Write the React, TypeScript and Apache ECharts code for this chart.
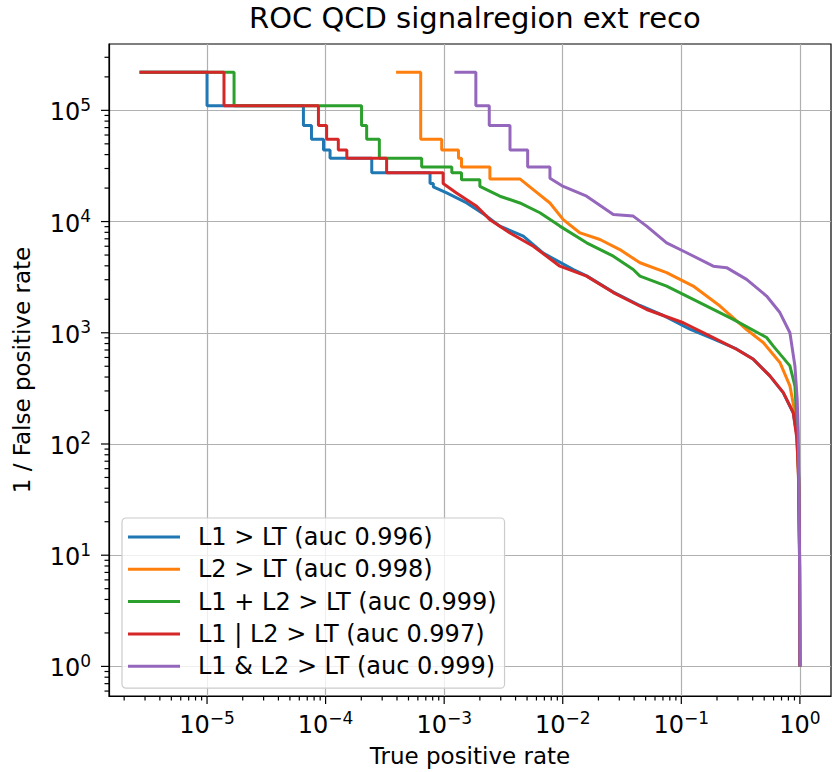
import React, { useEffect, useRef } from 'react';
import * as echarts from 'echarts';

const FONT = 'DejaVu Sans';

const titleText = 'ROC QCD signalregion ext reco';
const xAxisTitle = 'True positive rate';
const yAxisTitle = '1 / False positive rate';

const seriesNames = [
  'L1 > LT (auc 0.996)',
  'L2 > LT (auc 0.998)',
  'L1 + L2 > LT (auc 0.999)',
  'L1 | L2 > LT (auc 0.997)',
  'L1 & L2 > LT (auc 0.999)',
];
const seriesColors = ['#1f77b4', '#ff7f0e', '#2ca02c', '#d62728', '#9467bd'];

// [true positive rate, 1 / false positive rate]
const l1Points: [number, number][] = [
  [2.7e-6, 2.2e5], [1.0e-5, 2.2e5], [1.0e-5, 1.1e5],
  [6.5e-5, 1.1e5], [6.5e-5, 7.3e4], [7.6e-5, 7.3e4], [7.6e-5, 5.5e4],
  [9.6e-5, 5.5e4], [9.6e-5, 4.4e4], [1.09e-4, 4.4e4], [1.09e-4, 3.7e4],
  [2.45e-4, 3.7e4], [2.45e-4, 2.75e4], [7.6e-4, 2.75e4], [7.6e-4, 2.2e4],
  [8.1e-4, 2.2e4], [8.1e-4, 2.05e4], [1.05e-3, 1.81e4], [1.55e-3, 1.47e4],
  [2.28e-3, 1.12e4], [2.95e-3, 9.1e3], [4.65e-3, 7.4e3], [6.85e-3, 5.2e3],
  [1.23e-2, 3.7e3], [1.59e-2, 3.25e3], [2.67e-2, 2.32e3], [4.48e-2, 1.76e3],
  [7.04e-2, 1.43e3], [0.118, 1.08e3], [0.186, 880], [0.292, 715],
  [0.404, 580], [0.558, 410], [0.723, 290], [0.879, 190], [0.938, 125],
  [0.97, 60], [0.993, 12], [1, 1],
];

const l2Points: [number, number][] = [
  [3.93e-4, 2.2e5], [6.34e-4, 2.2e5], [6.34e-4, 5.5e4],
  [9.53e-4, 5.5e4], [9.53e-4, 4.4e4], [1.32e-3, 4.4e4], [1.32e-3, 3.7e4],
  [1.4e-3, 3.7e4], [1.4e-3, 3.1e4], [2.43e-3, 3.1e4], [2.43e-3, 2.42e4],
  [4.35e-3, 2.42e4], [5.64e-3, 1.94e4], [7.8e-3, 1.47e4], [1.01e-2, 1.04e4],
  [1.4e-2, 7.9e3], [2.06e-2, 6.9e3], [3.03e-2, 5.6e3], [4.48e-2, 4.26e3],
  [7.52e-2, 3.47e3], [0.126, 2.63e3], [0.212, 1.74e3], [0.355, 1.07e3],
  [0.491, 817], [0.678, 541], [0.824, 333], [0.908, 192], [0.953, 100],
  [0.98, 39], [0.995, 7.6], [1, 1],
];

const sumPoints: [number, number][] = [
  [2.7e-6, 2.2e5], [1.69e-5, 2.2e5], [1.69e-5, 1.1e5],
  [2.01e-4, 1.1e5], [2.01e-4, 7.3e4], [2.22e-4, 7.3e4], [2.22e-4, 5.5e4],
  [2.84e-4, 5.5e4], [2.84e-4, 3.7e4], [6.46e-4, 3.7e4], [6.46e-4, 3.1e4],
  [1.16e-3, 3.1e4], [1.16e-3, 2.75e4], [1.4e-3, 2.75e4], [1.4e-3, 2.38e4],
  [2.0e-3, 2.38e4], [2.0e-3, 2.07e4], [2.95e-3, 1.69e4], [4.35e-3, 1.47e4],
  [6.42e-3, 1.2e4], [9.46e-3, 9.1e3], [1.59e-2, 6.44e3], [2.67e-2, 4.88e3],
  [3.93e-2, 3.71e3], [4.48e-2, 3.23e3], [7.52e-2, 2.63e3], [0.143, 1.87e3],
  [0.274, 1.32e3], [0.524, 906], [0.595, 762], [0.824, 504], [0.908, 333],
  [0.938, 179], [0.949, 128], [0.98, 48], [0.995, 9], [1, 1],
];

const orPoints: [number, number][] = [
  [2.7e-6, 2.2e5], [1.39e-5, 2.2e5], [1.39e-5, 1.1e5],
  [8.7e-5, 1.1e5], [8.7e-5, 7.3e4], [1.02e-4, 7.3e4], [1.02e-4, 5.5e4],
  [1.28e-4, 5.5e4], [1.28e-4, 4.4e4], [1.51e-4, 4.4e4], [1.51e-4, 3.7e4],
  [3.27e-4, 3.7e4], [3.27e-4, 2.75e4], [9.8e-4, 2.75e4], [9.8e-4, 2.2e4],
  [1.27e-3, 1.81e4], [1.88e-3, 1.37e4], [2.43e-3, 1.04e4], [3.59e-3, 7.9e3],
  [5.64e-3, 6.0e3], [9.46e-3, 3.97e3], [1.59e-2, 3.23e3], [2.67e-2, 2.3e3],
  [5.1e-2, 1.62e3], [0.104, 1.23e3], [0.186, 906], [0.292, 711],
  [0.404, 578], [0.558, 410], [0.723, 291], [0.879, 192], [0.944, 111],
  [0.977, 48], [0.993, 9], [1, 1],
];

const andPoints: [number, number][] = [
  [1.22e-3, 2.2e5], [1.85e-3, 2.2e5], [1.85e-3, 1.1e5],
  [2.4e-3, 1.1e5], [2.4e-3, 7.3e4], [3.59e-3, 7.3e4], [3.59e-3, 4.4e4],
  [5.06e-3, 4.4e4], [5.06e-3, 3.1e4], [7.8e-3, 3.1e4], [7.8e-3, 2.45e4],
  [1.01e-2, 2.07e4], [1.59e-2, 1.69e4], [2.67e-2, 1.16e4], [3.93e-2, 1.12e4],
  [5.1e-2, 9.1e3], [7.52e-2, 6.44e3], [0.111, 5.24e3], [0.186, 3.97e3],
  [0.241, 3.85e3], [0.355, 3.02e3], [0.524, 2.14e3], [0.678, 1.52e3],
  [0.824, 1.0e3], [0.908, 504], [0.949, 253], [0.968, 127], [0.986, 32],
  [0.996, 6.2], [1, 1],
];

const seriesData = [l1Points, l2Points, sumPoints, orPoints, andPoints];

// axis extents
const X_MIN = 1.49e-6;
const X_MAX = 1.83;
const Y_MIN = 0.542;
const Y_MAX = 3.95e5;

// tick positions: decades and minor multipliers
const xDecades = [1e-6, 1e-5, 1e-4, 1e-3, 1e-2, 1e-1, 1];
const yDecades = [0.1, 1, 10, 100, 1e3, 1e4, 1e5];
const minorMultipliers = [1, 2, 3, 4, 5, 6, 7, 8, 9];

const inRange = (v: number, lo: number, hi: number) => v >= lo && v <= hi;
const xTicks: number[] = [];
xDecades.forEach((d) => minorMultipliers.forEach((m) => {
  const v = d * m;
  if (inRange(v, X_MIN, X_MAX)) xTicks.push(v);
}));
const yTicks: number[] = [];
yDecades.forEach((d) => minorMultipliers.forEach((m) => {
  const v = d * m;
  if (inRange(v, Y_MIN, Y_MAX)) yTicks.push(v);
}));

const isMajor = (v: number) => {
  const lg = Math.log10(v);
  return Math.abs(lg - Math.round(lg)) < 1e-6;
};

const powLabel = (v: number) => {
  const e = Math.round(Math.log10(v));
  const s = e < 0 ? '\u2212' + String(-e) : String(e);
  return '{b|10}{s|' + s + '}';
};

const labelRich = {
  b: { fontSize: 24, fontFamily: FONT, color: '#000', lineHeight: 28, verticalAlign: 'bottom' },
  s: { fontSize: 17, fontFamily: FONT, color: '#000', lineHeight: 17, verticalAlign: 'top' },
};

export default function App() {
  const ref = useRef<HTMLDivElement>(null);
  useEffect(() => {
    const chart = echarts.init(ref.current!, null, { renderer: 'svg' });
    const lineSeries = seriesNames.map((name, i) => ({
      name,
      type: 'line',
      data: seriesData[i],
      symbol: 'none',
      showSymbol: false,
      color: seriesColors[i],
      lineStyle: { width: 3, color: seriesColors[i] },
      itemStyle: { color: seriesColors[i] },
      z: 3,
    }));
    const tickSeriesX = {
      type: 'custom',
      silent: true,
      clip: false,
      z: 20,
      data: xTicks.map((v) => [v, Y_MIN]),
      renderItem: (_p: any, api: any) => {
        const v = api.value(0);
        const pt = api.coord([v, api.value(1)]);
        const len = isMajor(v) ? 8 : 4.5;
        return {
          type: 'line',
          shape: { x1: pt[0], y1: pt[1], x2: pt[0], y2: pt[1] + len },
          style: { stroke: '#000', lineWidth: 1.2 },
        };
      },
    };
    const tickSeriesY = {
      type: 'custom',
      silent: true,
      clip: false,
      z: 20,
      data: yTicks.map((v) => [X_MIN, v]),
      renderItem: (_p: any, api: any) => {
        const v = api.value(1);
        const pt = api.coord([api.value(0), v]);
        const len = isMajor(v) ? 8 : 4.5;
        return {
          type: 'line',
          shape: { x1: pt[0] - len, y1: pt[1], x2: pt[0], y2: pt[1] },
          style: { stroke: '#000', lineWidth: 1.2 },
        };
      },
    };
    chart.setOption({
      animation: false,
      backgroundColor: '#fff',
      title: {
        text: titleText,
        left: 249,
        top: 3,
        padding: 0,
        textStyle: { fontSize: 29, fontWeight: 'normal', fontFamily: FONT, color: '#000' },
      },
      legend: {
        data: seriesNames.map((name) => ({ name, icon: 'rect' })),
        orient: 'vertical',
        left: 122,
        top: 518,
        padding: [7, 8, 10, 6],
        itemWidth: 52,
        itemHeight: 3,
        itemGap: 8.3,
        backgroundColor: 'rgba(255,255,255,0.8)',
        borderColor: '#cccccc',
        borderWidth: 1.2,
        borderRadius: 4,
        selectedMode: false,
        textStyle: { fontSize: 24, fontFamily: FONT, color: '#000', lineHeight: 24, padding: [0, 0, 0, 13] },
      },
      grid: {
        left: 109,
        right: 1,
        top: 44,
        bottom: 74,
        show: true,
        borderColor: '#000',
        borderWidth: 1.2,
        backgroundColor: 'transparent',
      },
      xAxis: {
        type: 'log',
        logBase: 10,
        min: X_MIN,
        max: X_MAX,
        name: xAxisTitle,
        nameLocation: 'middle',
        nameGap: 48,
        nameTextStyle: { fontSize: 23, fontFamily: FONT, color: '#000' },
        axisLine: { show: true, lineStyle: { color: '#000', width: 1.2 } },
        axisTick: { show: false },
        minorTick: { show: false },
        splitLine: { show: true, showMinLine: false, showMaxLine: false, lineStyle: { color: '#b0b0b0', width: 1.2 } },
        axisLabel: {
          show: true,
          margin: 13,
          showMinLabel: false,
          showMaxLabel: false,
          formatter: powLabel,
          rich: labelRich,
        },
      },
      yAxis: {
        type: 'log',
        logBase: 10,
        min: Y_MIN,
        max: Y_MAX,
        name: yAxisTitle,
        nameLocation: 'middle',
        nameGap: 76,
        nameTextStyle: { fontSize: 23, fontFamily: FONT, color: '#000' },
        axisLine: { show: true, lineStyle: { color: '#000', width: 1.2 } },
        axisTick: { show: false },
        minorTick: { show: false },
        splitLine: { show: true, showMinLine: false, showMaxLine: false, lineStyle: { color: '#b0b0b0', width: 1.2 } },
        axisLabel: {
          show: true,
          margin: 18,
          showMinLabel: false,
          showMaxLabel: false,
          formatter: powLabel,
          rich: labelRich,
        },
      },
      series: [...lineSeries, tickSeriesX, tickSeriesY],
    });
    return () => chart.dispose();
  }, []);
  return <div ref={ref} style={{ position: 'absolute', left: 0, top: 0, width: 832, height: 772 }} />;
}
